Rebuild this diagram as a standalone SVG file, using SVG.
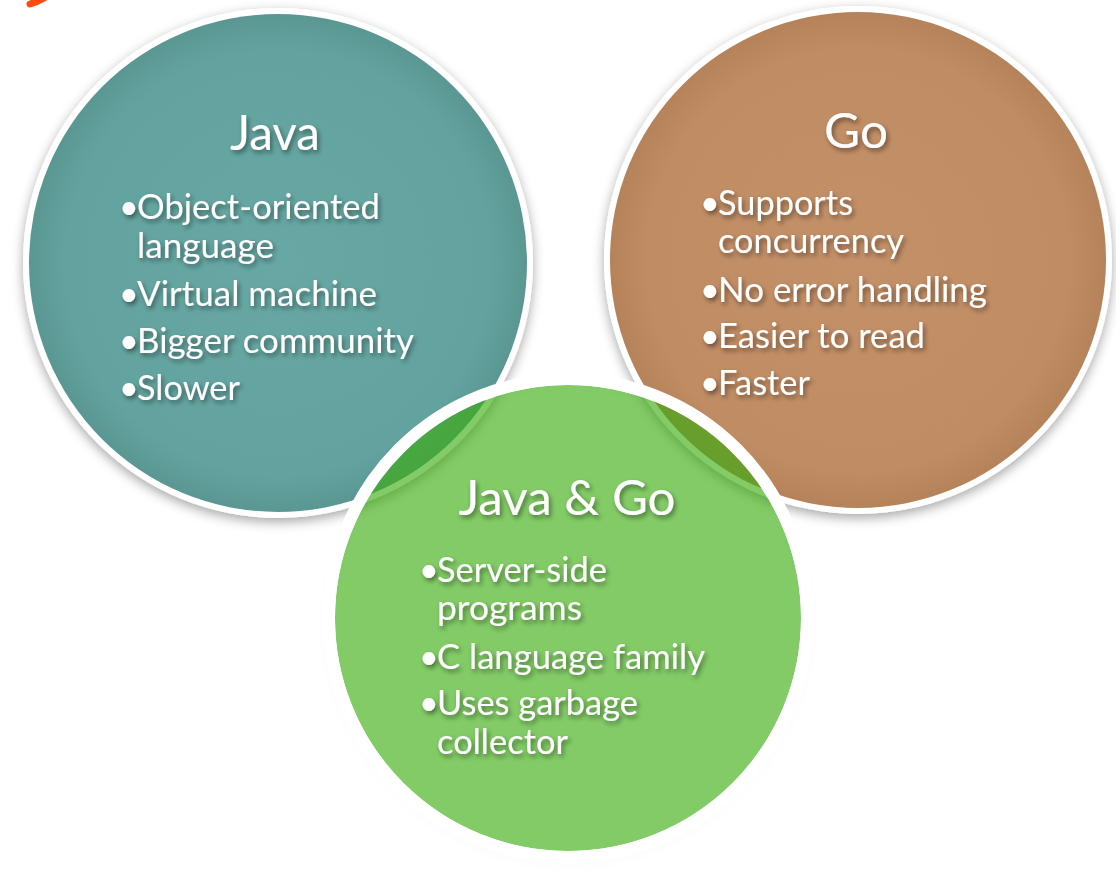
<svg xmlns="http://www.w3.org/2000/svg" width="1116" height="870" viewBox="0 0 1116 870">
  <defs>
    <filter id="shadow" x="-20%" y="-20%" width="140%" height="140%">
      <feDropShadow dx="0" dy="4" stdDeviation="6" flood-color="#000" flood-opacity="0.35"/>
    </filter>
    <filter id="tshadow" x="-10%" y="-30%" width="120%" height="160%">
      <feGaussianBlur in="SourceAlpha" stdDeviation="2.5" result="b"/>
      <feOffset in="b" dx="2" dy="3" result="o"/>
      <feComponentTransfer in="o" result="s"><feFuncA type="linear" slope="0.45"/></feComponentTransfer>
      <feMerge><feMergeNode in="s"/><feMergeNode in="SourceGraphic"/></feMerge>
    </filter>
    <radialGradient id="gTeal" cx="0.5" cy="0.5" r="0.5">
      <stop offset="0" stop-color="#67a8a4"/>
      <stop offset="0.85" stop-color="#63a39f"/>
      <stop offset="1" stop-color="#5a9793"/>
    </radialGradient>
    <radialGradient id="gBrown" cx="0.5" cy="0.5" r="0.5">
      <stop offset="0" stop-color="#c49068"/>
      <stop offset="0.85" stop-color="#c08c63"/>
      <stop offset="1" stop-color="#b5825a"/>
    </radialGradient>
    <style>
      .ring { stroke: #ffffff; stroke-width: 12; }
      .txt { font-family: Lato, "Open Sans", "Liberation Sans", sans-serif; fill: #ffffff; }
      .title { font-size: 49px; }
      .item { font-size: 34px; }
    </style>
  </defs>

  <path d="M30 4 Q37 2 44 -2" fill="none" stroke="#ff4a12" stroke-width="7" stroke-linecap="round"/>

  <g id="java">
    <circle cx="278" cy="263" r="255" fill="#ffffff" filter="url(#shadow)"/>
    <circle cx="278" cy="263" r="249" fill="url(#gTeal)"/>
    <g class="txt" filter="url(#tshadow)">
      <text class="title" x="275" y="150" text-anchor="middle" textLength="90" lengthAdjust="spacingAndGlyphs">Java</text>
      <g class="item">
        <text y="219"><tspan x="119">•</tspan><tspan x="137" textLength="243" lengthAdjust="spacingAndGlyphs">Object-oriented</tspan></text>
        <text x="137" y="258" textLength="137" lengthAdjust="spacingAndGlyphs">language</text>
        <text y="306"><tspan x="119">•</tspan><tspan x="137" textLength="240" lengthAdjust="spacingAndGlyphs">Virtual machine</tspan></text>
        <text y="353"><tspan x="119">•</tspan><tspan x="137" textLength="277" lengthAdjust="spacingAndGlyphs">Bigger community</tspan></text>
        <text y="400"><tspan x="119">•</tspan><tspan x="137" textLength="103" lengthAdjust="spacingAndGlyphs">Slower</tspan></text>
      </g>
    </g>
  </g>

  <g id="go">
    <circle cx="858" cy="260" r="254" fill="#ffffff" filter="url(#shadow)"/>
    <circle cx="858" cy="260" r="248" fill="url(#gBrown)"/>
    <g class="txt" filter="url(#tshadow)">
      <text class="title" x="856" y="148" text-anchor="middle" textLength="64" lengthAdjust="spacingAndGlyphs">Go</text>
      <g class="item">
        <text y="215"><tspan x="700">•</tspan><tspan x="718" textLength="135" lengthAdjust="spacingAndGlyphs">Supports</tspan></text>
        <text x="718" y="253" textLength="186" lengthAdjust="spacingAndGlyphs">concurrency</text>
        <text y="302"><tspan x="700">•</tspan><tspan x="718" textLength="269" lengthAdjust="spacingAndGlyphs">No error handling</tspan></text>
        <text y="348"><tspan x="700">•</tspan><tspan x="718" textLength="207" lengthAdjust="spacingAndGlyphs">Easier to read</tspan></text>
        <text y="395"><tspan x="700">•</tspan><tspan x="718" textLength="92" lengthAdjust="spacingAndGlyphs">Faster</tspan></text>
      </g>
    </g>
  </g>

  <g id="java-go">
    <circle cx="568" cy="618" r="238" fill="none" stroke="#000" stroke-opacity="0.25" stroke-width="2" filter="url(#shadow)"/>
    <circle cx="568" cy="618" r="233" fill="#3cae10" fill-opacity="0.64"/>
    <circle cx="568" cy="618" r="239" fill="none" class="ring"/>
    <g class="txt" filter="url(#tshadow)">
      <text class="title" x="567" y="515" text-anchor="middle" textLength="217" lengthAdjust="spacingAndGlyphs">Java &amp; Go</text>
      <g class="item">
        <text y="582"><tspan x="419">•</tspan><tspan x="437" textLength="170" lengthAdjust="spacingAndGlyphs">Server-side</tspan></text>
        <text x="437" y="620" textLength="145" lengthAdjust="spacingAndGlyphs">programs</text>
        <text y="669"><tspan x="419">•</tspan><tspan x="437" textLength="268" lengthAdjust="spacingAndGlyphs">C language family</tspan></text>
        <text y="715"><tspan x="419">•</tspan><tspan x="437" textLength="201" lengthAdjust="spacingAndGlyphs">Uses garbage</tspan></text>
        <text x="437" y="754" textLength="131" lengthAdjust="spacingAndGlyphs">collector</text>
      </g>
    </g>
  </g>
</svg>
